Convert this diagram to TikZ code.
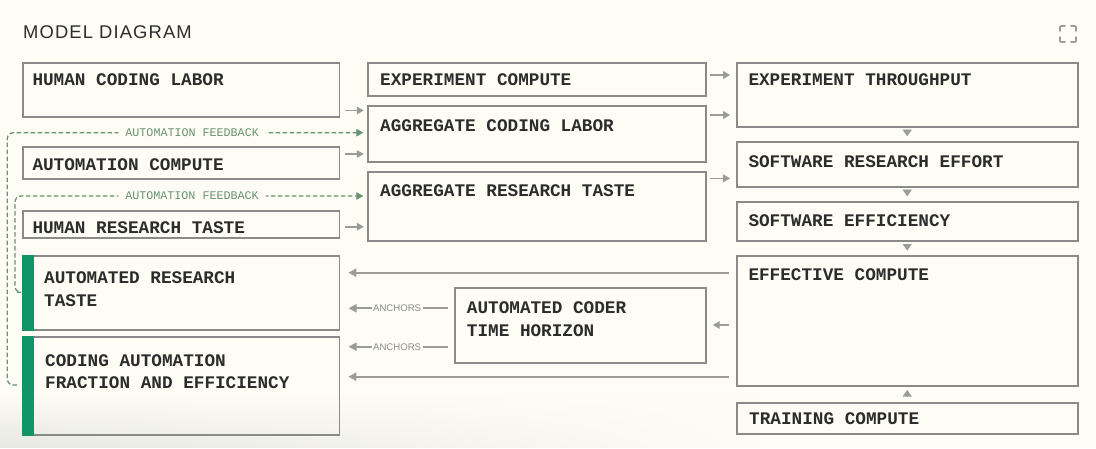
\documentclass[tikz,border=0pt]{standalone}
\usepackage{fontspec}
\setmainfont{Liberation Sans}
\newfontfamily\monofont{Liberation Mono}
\newfontfamily\titlefont[LetterSpace=6]{Liberation Sans}
\usetikzlibrary{arrows.meta,calc,fadings}

\definecolor{bg}{RGB}{253,253,246}
\definecolor{shd}{RGB}{232,232,226}
\definecolor{boxgray}{RGB}{138,138,136}
\definecolor{txt}{RGB}{44,44,44}
\definecolor{arrgray}{RGB}{155,155,152}
\definecolor{barGreen}{RGB}{16,148,104}
\definecolor{fbgreen}{RGB}{104,146,112}
\definecolor{anchgray}{RGB}{138,138,138}

\newcommand\boxfont{\monofont\bfseries\fontsize{17.7}{22}\selectfont}

\tikzset{
  box/.style={draw=boxgray, line width=1.8pt, inner sep=0pt, outer sep=0pt, anchor=north west, fill=none},
  lbl/.style={anchor=base west, inner sep=0pt, font=\boxfont, text=txt},
  stub/.style={draw=arrgray, line width=1.6pt, -{Triangle[length=7pt,width=7.5pt]}},
  longarr/.style={draw=arrgray, line width=1.8pt, -{Triangle[length=8pt,width=8pt]}},
  tri/.style={draw=arrgray, line width=0.1pt, -{Triangle[length=6.5pt,width=9pt]}},
  fb/.style={draw=fbgreen, line width=1.3pt, dash pattern=on 4.5pt off 2.5pt, rounded corners=6pt,
             -{Triangle[length=7pt,width=7.5pt,fill=fbgreen]}},
  fblabel/.style={fill=bg, text=fbgreen, inner xsep=7pt, inner ysep=2pt,
                  font=\monofont\fontsize{11.7}{12}\selectfont},
  anchlabel/.style={fill=bg, text=anchgray, inner xsep=1.5pt, inner ysep=1pt,
                  font=\fontsize{9.6}{10}\selectfont},
  icon/.style={draw=arrgray, line width=1.6pt, line cap=round, rounded corners=1pt},
}

\begin{document}
\begin{tikzpicture}[x=1pt,y=-1pt]
\useasboundingbox (0,0) rectangle (1096,448);
\fill[bg] (0,0) rectangle (1096,448);
\shade[top color=bg, bottom color=shd, path fading=east] (0,392) rectangle (760,448);

% title and icon
\node[anchor=base west, inner sep=0pt, text=txt, font=\titlefont\fontsize{18.4}{20}\selectfont] (title) at (23,38.3) {MODEL DIAGRAM};
\draw[icon] (1060,31) -- (1060,26) -- (1065,26);
\draw[icon] (1071,26) -- (1076,26) -- (1076,31);
\draw[icon] (1060,37) -- (1060,42) -- (1065,42);
\draw[icon] (1071,42) -- (1076,42) -- (1076,37);

% column 1
\node[box, minimum width=316.5pt, minimum height=54.6pt] (hcl) at (23,62.7) {};
\node[box, minimum width=316.5pt, minimum height=32pt] (ac) at (23,147.3) {};
\node[box, minimum width=316.5pt, minimum height=27.3pt] (hrt) at (23,211) {};
\node[box, minimum width=316.5pt, minimum height=74.3pt] (art) at (23,255.7) {};
\node[box, minimum width=316.5pt, minimum height=98.3pt] (caf) at (23,336.7) {};
\fill[barGreen] (22.1,254.8) rectangle (33.7,330.9);
\fill[barGreen] (22.1,335.8) rectangle (33.7,435.9);

% column 2
\node[box, minimum width=337.4pt, minimum height=33.3pt] (ecp) at (368.3,62.7) {};
\node[box, minimum width=337.4pt, minimum height=56.3pt] (acl) at (368.3,106) {};
\node[box, minimum width=337.4pt, minimum height=69.3pt] (agt) at (368.3,171.7) {};
\node[box, minimum width=251pt, minimum height=75.6pt] (acth) at (454.7,287.7) {};

% column 3
\node[box, minimum width=341pt, minimum height=64pt] (et) at (736.7,62.7) {};
\node[box, minimum width=341pt, minimum height=44.7pt] (sre) at (736.7,142) {};
\node[box, minimum width=341pt, minimum height=39.3pt] (se) at (736.7,201.7) {};
\node[box, minimum width=341pt, minimum height=130pt] (eff) at (736.7,255.7) {};
\node[box, minimum width=341pt, minimum height=31.6pt] (tc) at (736.7,402.7) {};

% texts
\node[lbl] (hcl-t) at (32.3,85) {HUMAN CODING LABOR};
\node[lbl] (ac-t) at (32.3,170) {AUTOMATION COMPUTE};
\node[lbl] (hrt-t) at (32.3,233.3) {HUMAN RESEARCH TASTE};
\node[lbl] (art-t1) at (44,283.3) {AUTOMATED RESEARCH};
\node[lbl] (art-t2) at (44,306) {TASTE};
\node[lbl] (caf-t1) at (45,366) {CODING AUTOMATION};
\node[lbl] (caf-t2) at (45,388.3) {FRACTION AND EFFICIENCY};
\node[lbl] (ecp-t) at (380,85.7) {EXPERIMENT COMPUTE};
\node[lbl] (acl-t) at (380,131.3) {AGGREGATE CODING LABOR};
\node[lbl] (agt-t) at (380,196.7) {AGGREGATE RESEARCH TASTE};
\node[lbl] (acth-t1) at (466.7,313.3) {AUTOMATED CODER};
\node[lbl] (acth-t2) at (466.7,336) {TIME HORIZON};
\node[lbl] (et-t) at (748.3,85.7) {EXPERIMENT THROUGHPUT};
\node[lbl] (sre-t) at (748.3,167.3) {SOFTWARE RESEARCH EFFORT};
\node[lbl] (se-t) at (748.3,226.7) {SOFTWARE EFFICIENCY};
\node[lbl] (eff-t) at (748.3,280.7) {EFFECTIVE COMPUTE};
\node[lbl] (tc-t) at (749,424.3) {TRAINING COMPUTE};

% short input arrows
\draw[stub, shorten <=5.5pt, shorten >=4.5pt] (hcl.east |- 0,110.5) -- (acl.west |- 0,110.5);
\draw[stub, shorten <=5.5pt, shorten >=4.5pt] (ac.east |- 0,154) -- (acl.west |- 0,154);
\draw[stub, shorten <=5.5pt, shorten >=4.5pt] (hrt.east |- 0,226.7) -- (agt.west |- 0,226.7);
\draw[stub, shorten <=4.5pt, shorten >=6.5pt] (ecp.east |- 0,75) -- (et.west |- 0,75);
\draw[stub, shorten <=4.5pt, shorten >=6.5pt] (acl.east |- 0,115) -- (et.west |- 0,115);
\draw[stub, shorten <=4.5pt, shorten >=6.5pt] (agt.east |- 0,178.3) -- (sre.west |- 0,178.3);

% vertical triangles
\draw[tri, shorten <=3pt, shorten >=5.8pt] (et.south) -- (sre.north);
\draw[tri, shorten <=3pt, shorten >=5.5pt] (sre.south) -- (se.north);
\draw[tri, shorten <=3pt, shorten >=5.2pt] (se.south) -- (eff.north);
\draw[tri, shorten <=5.7pt, shorten >=4.3pt] (tc.north) -- (eff.south);

% effective compute outputs
\draw[longarr, shorten <=7.4pt, shorten >=8.8pt] (eff.west |- 0,272.7) -- (art.east |- 0,272.7);
\draw[longarr, shorten <=7.4pt, shorten >=8.8pt] (eff.west |- 0,376.7) -- (caf.east |- 0,376.7);
\draw[stub, shorten <=7.5pt, shorten >=7pt] (eff.west |- 0,325) -- (acth.east |- 0,325);

% anchors
\draw[longarr, shorten <=6.4pt, shorten >=9pt] (acth.west |- 0,308.3) -- node[anchlabel] (anc1) {ANCHORS} (art.east |- 0,308.3);
\draw[longarr, shorten <=6.4pt, shorten >=9pt] (acth.west |- 0,346.7) -- node[anchlabel] (anc2) {ANCHORS} (caf.east |- 0,346.7);

% automation feedback loops
\draw[fb, shorten <=6pt, shorten >=5pt] (caf.west |- 0,385) -- (7.3,385) -- (7.3,132.7)
   -- node[fblabel, pos=0.512, solid] (fb1) {AUTOMATION FEEDBACK} (acl.west |- 0,132.7);
\draw[fb, shorten <=6pt, shorten >=5pt] (art.west |- 0,292.3) -- (15,292.3) -- (15,196)
   -- node[fblabel, pos=0.501, solid] (fb2) {AUTOMATION FEEDBACK} (agt.west |- 0,196);
\end{tikzpicture}
\end{document}
